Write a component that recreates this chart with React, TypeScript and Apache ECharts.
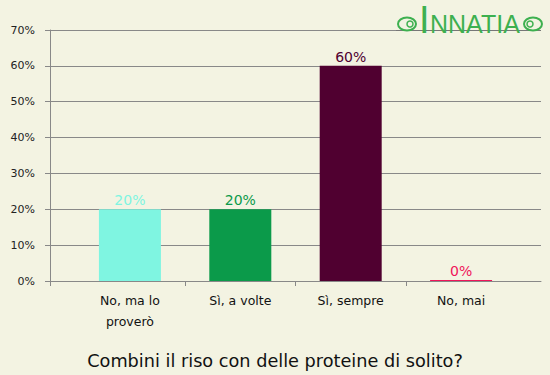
import React, { useEffect, useRef } from "react";
import * as echarts from "echarts";

const categories = ["No, ma lo\nproverò", "Sì, a volte", "Sì, sempre", "No, mai"];
const values = [20, 20, 60, 0];
const barColors = ["#7ff5e1", "#0b9a4a", "#500030", "#f0155a"];
const yTicks = [0, 10, 20, 30, 40, 50, 60, 70];
const titleText = "Combini il riso con delle proteine di solito?";

const FONT = "DejaVu Sans";

export default function App() {
  const ref = useRef<HTMLDivElement>(null);
  useEffect(() => {
    if (!ref.current) return;
    const chart = echarts.init(ref.current, null, { renderer: "svg" });
    const green = "#3db04f";
    chart.setOption({
      animation: false,
      backgroundColor: "#f3f3e2",
      title: {
        text: titleText,
        left: "center",
        top: 347,
        textStyle: { fontFamily: FONT, fontSize: 17.7, fontWeight: "normal", color: "#111" },
      },
      grid: { left: 50, right: 9, top: 30, bottom: 94, containLabel: false },
      xAxis: {
        type: "value",
        min: -0.724,
        max: 3.724,
        splitLine: { show: false },
        axisLine: { show: true, onZero: false, lineStyle: { color: "#888", width: 1 } },
        axisTick: { show: true, length: 5, customValues: [-0.724, 0.5, 1.5, 2.5], lineStyle: { color: "#888" } },
        axisLabel: {
          customValues: [0, 1, 2, 3],
          formatter: (v: number) => categories[Math.round(v)] ?? "",
          fontFamily: FONT,
          fontSize: 12.5,
          color: "#111",
          lineHeight: 21,
          margin: 9,
        },
      },
      yAxis: {
        type: "value",
        min: yTicks[0],
        max: yTicks[yTicks.length - 1],
        interval: 10,
        axisLine: { show: true, onZero: false, lineStyle: { color: "#888", width: 1 } },
        axisTick: { show: true, length: 5, lineStyle: { color: "#888" } },
        splitLine: { show: true, lineStyle: { color: "#888", width: 1 } },
        axisLabel: {
          formatter: "{value}%",
          fontFamily: FONT,
          fontSize: 11,
          color: "#222",
          margin: 15,
        },
      },
      series: [
        {
          type: "bar",
          barWidth: 62,
          barMinHeight: 1,
          data: values.map((v, i) => ({
            value: [i, v],
            itemStyle: { color: barColors[i] },
            label: { color: barColors[i] },
          })),
          label: {
            show: true,
            position: "top",
            distance: 2,
            fontFamily: FONT,
            fontSize: 14,
            formatter: (p: any) => p.value[1] + "%",
          },
        },
      ],
      graphic: [
        { type: "line", shape: { x1: 396, y1: 30.5, x2: 541, y2: 30.5 }, style: { stroke: "#777", lineWidth: 1 }, z: 1 },
        { type: "ellipse", shape: { cx: 407, cy: 24, rx: 9, ry: 6.5 }, style: { stroke: green, fill: "none", lineWidth: 2 }, z: 2 },
        { type: "circle", shape: { cx: 410, cy: 24, r: 3 }, style: { stroke: green, fill: "none", lineWidth: 1.5 }, z: 2 },
        { type: "ellipse", shape: { cx: 533, cy: 24, rx: 9, ry: 6.5 }, style: { stroke: green, fill: "none", lineWidth: 2 }, z: 2 },
        { type: "circle", shape: { cx: 530, cy: 24, r: 3 }, style: { stroke: green, fill: "none", lineWidth: 1.5 }, z: 2 },
        {
          type: "text",
          x: 419,
          y: 19.5,
          z: 3,
          style: {
            text: "I",
            fontFamily: "Liberation Sans",
            fontSize: 38,
            lineHeight: 28,
            fill: green,
            align: "left",
            verticalAlign: "middle",
          },
        },
        {
          type: "text",
          x: 430,
          y: 23.6,
          z: 3,
          style: {
            text: "NNATIA",
            fontFamily: "Liberation Sans",
            fontSize: 25,
            lineHeight: 20,
            fill: green,
            align: "left",
            verticalAlign: "middle",
          },
        },
      ],
    });
    return () => chart.dispose();
  }, []);
  return (
    <div
      ref={ref}
      style={{ width: 550, height: 375, position: "fixed", left: 0, top: 0 }}
    />
  );
}
